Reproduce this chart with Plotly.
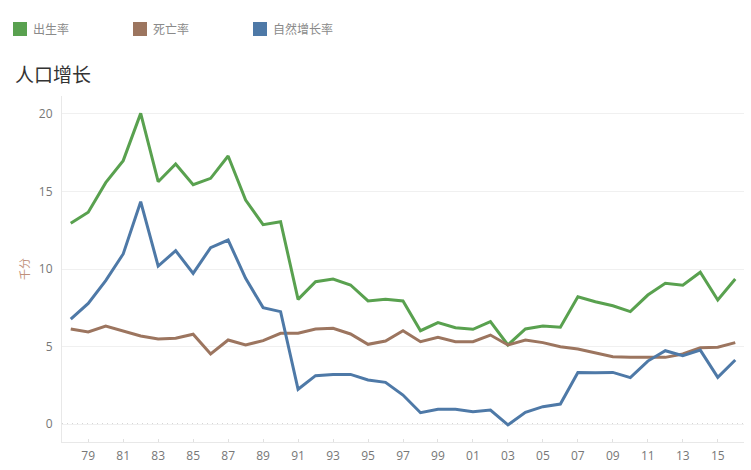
import plotly.graph_objects as go

years = list(range(1978, 2017))
tick_years = list(range(1979, 2017, 2))
tick_labels = [f"{y % 100:02d}" for y in tick_years]

series_names = ["出生率", "死亡率", "自然增长率"]
series_colors = ["#59a14f", "#9c755f", "#4e79a7"]

birth_rate = [12.95, 13.66, 15.57, 16.99, 20.04, 15.63, 16.77, 15.44, 15.85, 17.29,
              14.45, 12.86, 13.05, 8.04, 9.18, 9.35, 8.97, 7.94, 8.04, 7.94,
              6.02, 6.54, 6.21, 6.11, 6.60, 5.10, 6.13, 6.32, 6.24, 8.21,
              7.89, 7.63, 7.25, 8.32, 9.08, 8.95, 9.79, 8.00, 9.35]
death_rate = [6.13, 5.94, 6.32, 6.02, 5.68, 5.48, 5.53, 5.79, 4.52, 5.42,
              5.10, 5.38, 5.85, 5.85, 6.13, 6.17, 5.81, 5.14, 5.35, 6.02,
              5.31, 5.59, 5.31, 5.31, 5.74, 5.10, 5.42, 5.25, 4.99, 4.84,
              4.60, 4.34, 4.30, 4.28, 4.30, 4.52, 4.92, 4.95, 5.25]
natural_growth = [6.77, 7.78, 9.25, 10.97, 14.34, 10.19, 11.18, 9.72, 11.38, 11.87,
                  9.40, 7.51, 7.25, 2.24, 3.12, 3.20, 3.20, 2.84, 2.69, 1.87,
                  0.73, 0.95, 0.95, 0.80, 0.90, -0.06, 0.75, 1.12, 1.29, 3.33,
                  3.31, 3.33, 2.99, 4.06, 4.73, 4.41, 4.77, 3.01, 4.13]

y_ticks = [0, 5, 10, 15, 20]

W, H = 751, 470
L, R, T, B = 62, 7, 96, 28
PW, PH = W - L - R, H - T - B

def px_to_paper_x(px):
    return (px - L) / PW

def px_to_paper_y(py):
    return (H - B - py) / PH

fig = go.Figure()
for name, color, vals in zip(series_names, series_colors, [birth_rate, death_rate, natural_growth]):
    fig.add_trace(go.Scatter(x=years, y=vals, mode="lines", name=name,
                             line=dict(color=color, width=3), showlegend=False,
                             hovertemplate="%{x}: %{y}<extra>" + name + "</extra>"))

# zero reference line + custom legend
shapes = [dict(type="line", xref="paper", yref="y", x0=0, x1=1, y0=0, y1=0,
               line=dict(color="#aaaaaa", width=1, dash="1px,4px"), layer="below")]
annotations = []
for i, (name, color) in enumerate(zip(series_names, series_colors)):
    x0 = 13 + 120 * i
    shapes.append(dict(type="rect", xref="paper", yref="paper",
                       x0=px_to_paper_x(x0), x1=px_to_paper_x(x0 + 14),
                       y0=px_to_paper_y(36), y1=px_to_paper_y(22),
                       fillcolor=color, line=dict(width=0)))
    annotations.append(dict(xref="paper", yref="paper", x=px_to_paper_x(x0 + 18),
                            y=px_to_paper_y(29), text=name, showarrow=False,
                            xanchor="left", yanchor="middle",
                            font=dict(family="Noto Sans CJK SC", size=12, color="#8a8a8a")))

fig.update_layout(
    width=W, height=H,
    margin=dict(l=L, r=R, t=T, b=B, autoexpand=False),
    paper_bgcolor="white", plot_bgcolor="white",
    title=dict(text="人口增长", x=15 / W, y=1 - 75 / H, xref="container", yref="container",
               xanchor="left", yanchor="middle",
               font=dict(family="Noto Sans CJK SC", size=19, color="#333333")),
    shapes=shapes, annotations=annotations,
    xaxis=dict(range=[1977.5, 2016.5], tickvals=tick_years, ticktext=tick_labels,
               showgrid=False, zeroline=False, showline=True, linecolor="#e8e8e8", linewidth=1,
               ticks="inside", ticklen=3, tickcolor="#e0e0e0", ticklabelstandoff=3,
               tickfont=dict(family="Open Sans", size=12, color="#777777")),
    yaxis=dict(range=[-1.16, 21.16], tickvals=y_ticks,
               showgrid=True, gridcolor="#f0f0f0", gridwidth=1, zeroline=False,
               showline=True, linecolor="#e8e8e8", linewidth=1,
               ticks="", ticklabelstandoff=6,
               tickfont=dict(family="Open Sans", size=12, color="#777777"),
               title=dict(text="千分", standoff=7,
                          font=dict(family="Noto Sans CJK SC", size=11, color="#c0907a"))),
    hovermode="closest",
)

fig.write_html("out.html", post_script="document.body.style.margin='0';",
               config={"displayModeBar": False})
